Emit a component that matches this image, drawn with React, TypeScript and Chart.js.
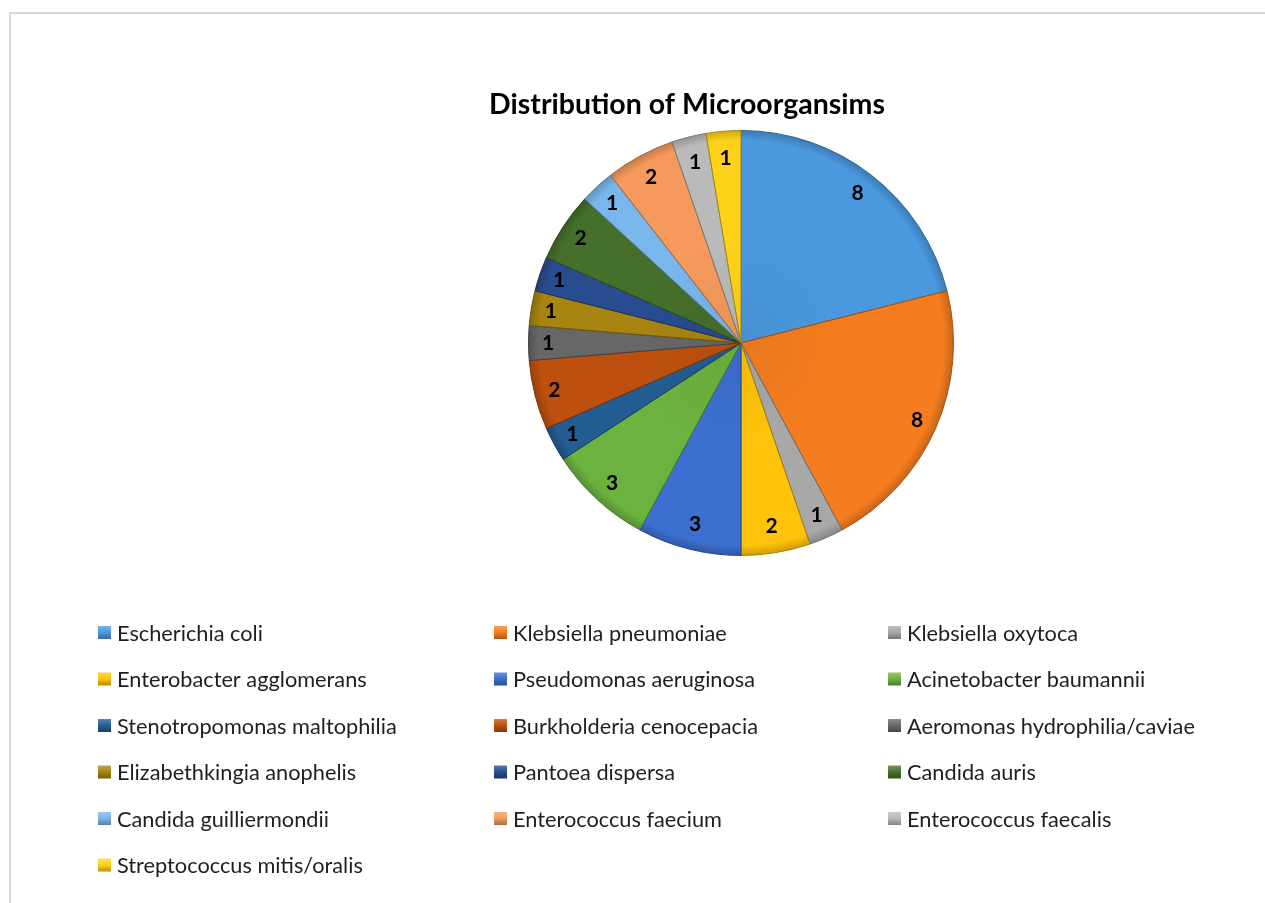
import React, { useEffect, useRef } from "react";
import { Chart, registerables } from "chart.js";

Chart.register(...registerables);

const TITLE = "Distribution of Microorgansims";

const categories = [
  "Escherichia coli",
  "Klebsiella pneumoniae",
  "Klebsiella oxytoca",
  "Enterobacter agglomerans",
  "Pseudomonas aeruginosa",
  "Acinetobacter baumannii",
  "Stenotropomonas maltophilia",
  "Burkholderia cenocepacia",
  "Aeromonas hydrophilia/caviae",
  "Elizabethkingia anophelis",
  "Pantoea dispersa",
  "Candida auris",
  "Candida guilliermondii",
  "Enterococcus faecium",
  "Enterococcus faecalis",
  "Streptococcus mitis/oralis",
];

const counts = [8, 8, 1, 2, 3, 3, 1, 2, 1, 1, 1, 2, 1, 2, 1, 1];

const sliceColors = [
  "#4A99DE",
  "#F57D1F",
  "#A8A8A8",
  "#FFC30A",
  "#3C6FCF",
  "#6CB23E",
  "#245D93",
  "#BD500E",
  "#676767",
  "#A88410",
  "#284C8F",
  "#456F2B",
  "#79B6EC",
  "#F59A5C",
  "#BABABA",
  "#FFD21A",
];

function shade(hex: string, f: number): string {
  const n = parseInt(hex.slice(1), 16);
  let r = (n >> 16) & 255, g = (n >> 8) & 255, b = n & 255;
  if (f < 0) {
    r = Math.round(r * (1 + f)); g = Math.round(g * (1 + f)); b = Math.round(b * (1 + f));
  } else {
    r = Math.round(r + (255 - r) * f); g = Math.round(g + (255 - g) * f); b = Math.round(b + (255 - b) * f);
  }
  return `rgb(${r},${g},${b})`;
}

const FONT = "Lato, 'Open Sans', sans-serif";

function fitSize(ctx: CanvasRenderingContext2D, text: string, weight: string, target: number): number {
  ctx.font = `${weight} 100px ${FONT}`;
  const w = ctx.measureText(text).width;
  return (100 * target) / w;
}

const decorPlugin = {
  id: "decor",
  beforeDraw(chart: any) {
    const ctx = chart.ctx as CanvasRenderingContext2D;
    ctx.save();
    ctx.fillStyle = "#ffffff";
    ctx.fillRect(0, 0, chart.width, chart.height);
    ctx.strokeStyle = "#D9D9D9";
    ctx.lineWidth = 2;
    ctx.strokeRect(10, 13, chart.width + 20, chart.height + 20);
    ctx.restore();
  },
  afterDraw(chart: any) {
    const ctx = chart.ctx as CanvasRenderingContext2D;
    ctx.save();
    // title
    const ts = fitSize(ctx, TITLE, "bold", 396);
    ctx.font = `bold ${ts}px ${FONT}`;
    ctx.fillStyle = "#000000";
    ctx.textAlign = "center";
    ctx.textBaseline = "alphabetic";
    ctx.fillText(TITLE, 687, 114);

    // data labels
    const meta = chart.getDatasetMeta(0);
    ctx.font = `bold 21px ${FONT}`;
    ctx.textAlign = "center";
    ctx.textBaseline = "middle";
    meta.data.forEach((arc: any, i: number) => {
      const p = arc.getProps(["x", "y", "startAngle", "endAngle", "outerRadius"], true);
      const mid = (p.startAngle + p.endAngle) / 2;
      const r = p.outerRadius * 0.87 + 8 * Math.abs(Math.cos(mid));
      const tx = p.x + Math.cos(mid) * r;
      const ty = p.y + Math.sin(mid) * r;
      ctx.fillStyle = "#000000";
      ctx.fillText(String(chart.data.datasets[0].data[i]), tx, ty);
    });

    // legend
    const ls = fitSize(ctx, "Aeromonas hydrophilia/caviae", "normal", 288);
    ctx.font = `normal ${ls}px ${FONT}`;
    ctx.textAlign = "left";
    ctx.textBaseline = "middle";
    const colX = [98, 494, 888];
    const rowY0 = 632.5;
    const rowStep = 46.5;
    const labels: string[] = chart.data.labels;
    labels.forEach((lab, i) => {
      const col = i % 3;
      const row = Math.floor(i / 3);
      const x = colX[col];
      const y = rowY0 + row * rowStep;
      const base = sliceColors[i];
      const g = ctx.createLinearGradient(x, y - 6.5, x, y + 6.5);
      g.addColorStop(0, shade(base, 0.25));
      g.addColorStop(0.5, base);
      g.addColorStop(1, shade(base, -0.3));
      ctx.fillStyle = g;
      ctx.fillRect(x, y - 6.5, 13, 13);
      ctx.fillStyle = "#1f1f1f";
      ctx.fillText(lab, x + 19, y + 1);
    });
    ctx.restore();
  },
};

export default function App() {
  const ref = useRef<HTMLCanvasElement | null>(null);
  useEffect(() => {
    if (!ref.current) return;
    const chart = new Chart(ref.current, {
      type: "pie",
      data: {
        labels: categories,
        datasets: [
          {
            data: counts,
            backgroundColor: (c: any) => {
              const base = sliceColors[c.dataIndex % sliceColors.length];
              const area = c.chart.chartArea;
              if (!area) return base;
              const cx = (area.left + area.right) / 2;
              const cy = (area.top + area.bottom) / 2;
              const R = Math.min(area.right - area.left, area.bottom - area.top) / 2;
              const g = c.chart.ctx.createRadialGradient(cx, cy, 0, cx, cy, R);
              g.addColorStop(0, shade(base, -0.05));
              g.addColorStop(0.5, base);
              g.addColorStop(0.95, base);
              g.addColorStop(1, shade(base, -0.2));
              return g;
            },
            borderColor: sliceColors.map((c) => shade(c, -0.35)),
            borderWidth: 1,
          },
        ],
      },
      options: {
        responsive: false,
        animation: false,
        layout: { padding: { left: 528, right: 311, top: 130, bottom: 347 } },
        plugins: {
          legend: { display: false },
          title: { display: false },
          tooltip: { enabled: false },
        },
      },
      plugins: [decorPlugin],
    });
    return () => chart.destroy();
  }, []);
  return (
    <div style={{ position: "fixed", left: 0, top: 0, width: 1265, height: 903, background: "#fff" }}>
      <canvas ref={ref} width={1265} height={903} style={{ width: 1265, height: 903, display: "block" }} />
    </div>
  );
}
